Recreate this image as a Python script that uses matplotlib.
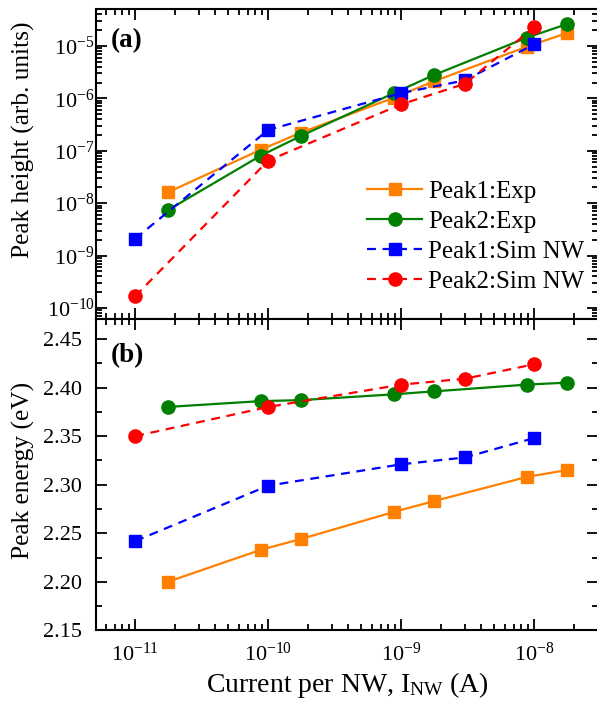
import matplotlib
matplotlib.use('Agg')
import matplotlib.pyplot as plt
import matplotlib.ticker as m_tick
import numpy as np

plt.rcParams['font.family'] = ['Liberation Serif', 'DejaVu Serif']
plt.rcParams['mathtext.fontset'] = 'custom'
plt.rcParams['mathtext.rm'] = 'Liberation Serif'
plt.rcParams['mathtext.it'] = 'Liberation Serif:italic'
plt.rcParams['mathtext.bf'] = 'Liberation Serif:bold'

# 实验数据的电流 (A)
current_exp = [1.75e-11, 8.8e-11, 1.75e-10, 8.8e-10, 1.75e-9, 8.8e-9, 1.75e-8]
# 模拟数据的电流 (A)
current_sim = [1e-11, 1e-10, 1e-9, 3e-9, 1e-8]

# (a) 峰高
height_p1_exp = [1.6e-8, 1.05e-7, 2.2e-7, 1.03e-6, 2.1e-6, 9.7e-6, 1.75e-5]
height_p2_exp = [7.3e-9, 8.1e-8, 1.9e-7, 1.26e-6, 2.77e-6, 1.44e-5, 2.6e-5]
height_p1_sim = [2.1e-9, 2.5e-7, 1.26e-6, 2.2e-6, 1.08e-5]
height_p2_sim = [1.68e-10, 6.5e-8, 7.7e-7, 1.89e-6, 2.3e-5]

# (b) 峰能量 (eV)
energy_p1_exp = [2.200, 2.233, 2.244, 2.272, 2.283, 2.308, 2.315]
energy_p2_exp = [2.380, 2.386, 2.387, 2.393, 2.396, 2.403, 2.405]
energy_p1_sim = [2.242, 2.299, 2.321, 2.328, 2.348]
energy_p2_sim = [2.350, 2.380, 2.403, 2.409, 2.424]

# 刻度
x_ticks = [1e-11, 1e-10, 1e-9, 1e-8]
y_ticks_a = [1e-10, 1e-9, 1e-8, 1e-7, 1e-6, 1e-5]

labels = ['Peak1:Exp', 'Peak2:Exp', 'Peak1:Sim NW', 'Peak2:Sim NW']
colors = ['#ff8000', '#007f00', '#0000ff', '#ff0000']

fig = plt.figure(figsize=(5.97, 7.02), dpi=100)
ax1 = fig.add_axes([0.1608, 0.5449, 0.8412, 0.4423])
ax2 = fig.add_axes([0.1608, 0.1019, 0.8412, 0.4430], sharex=ax1)

dash = (0, (4, 3))


def draw(ax, ys):
    ax.plot(current_exp, ys[0], color=colors[0], marker='s', markersize=8.5,
            lw=1.6, label=labels[0])
    ax.plot(current_exp, ys[1], color=colors[1], marker='o', markersize=9.5,
            lw=1.6, label=labels[1])
    ax.plot(current_sim, ys[2], color=colors[2], marker='s', markersize=8.5,
            lw=1.6, linestyle=dash, label=labels[2])
    ax.plot(current_sim, ys[3], color=colors[3], marker='o', markersize=9.5,
            lw=1.6, linestyle=dash, label=labels[3])


draw(ax1, [height_p1_exp, height_p2_exp, height_p1_sim, height_p2_sim])
draw(ax2, [energy_p1_exp, energy_p2_exp, energy_p1_sim, energy_p2_sim])

ax1.set_xscale('log')
ax1.set_yscale('log')
ax1.set_xlim(10 ** -11.295, 10 ** -7.52)
ax1.set_ylim(10 ** -10.22, 10 ** -4.295)
ax2.set_ylim(2.15, 2.47)

ax1.xaxis.set_major_locator(m_tick.FixedLocator(x_ticks))
ax1.xaxis.set_major_formatter(m_tick.LogFormatterMathtext())
ax1.xaxis.set_minor_locator(m_tick.LogLocator(base=10, subs=np.arange(2, 10), numticks=20))
ax1.xaxis.set_minor_formatter(m_tick.NullFormatter())
ax1.yaxis.set_major_locator(m_tick.FixedLocator(y_ticks_a))
ax1.yaxis.set_major_formatter(m_tick.LogFormatterMathtext())
ax1.yaxis.set_minor_locator(m_tick.LogLocator(base=10, subs=np.arange(2, 10), numticks=20))
ax1.yaxis.set_minor_formatter(m_tick.NullFormatter())
ax2.yaxis.set_major_locator(m_tick.MultipleLocator(0.05))
ax2.yaxis.set_minor_locator(m_tick.MultipleLocator(0.025))
ax2.yaxis.set_major_formatter(m_tick.FormatStrFormatter('%.2f'))

for ax in (ax1, ax2):
    ax.tick_params(which='both', direction='in', top=True, right=True, labelsize=16, width=1.3)
    ax.tick_params(which='major', length=8)
    ax.tick_params(which='minor', length=4)
    for sp in ax.spines.values():
        sp.set_linewidth(1.5)
ax1.tick_params(axis='x', which='both', labelbottom=False)
ax1.tick_params(axis='y', which='major', pad=1)
ax2.tick_params(axis='y', which='major', pad=10)
ax2.tick_params(axis='x', which='major', pad=9)

ax1.set_ylabel('Peak height (arb. units)', fontsize=18.3)
ax2.set_ylabel('Peak energy (eV)', fontsize=18.3)
ax2.set_xlabel(r'Current per NW, I$_{\rm NW}$ (A)', fontsize=20, labelpad=3)
ax1.yaxis.set_label_coords(-0.122, 0.58)
ax2.yaxis.set_label_coords(-0.122, 0.515)

ax1.text(0.03, 0.94, '(a)', transform=ax1.transAxes, fontsize=19.5, fontweight='bold', va='top')
ax2.text(0.03, 0.925, '(b)', transform=ax2.transAxes, fontsize=19.5, fontweight='bold', va='top')

ax1.legend(loc='upper left', bbox_to_anchor=(0.54, 0.448), frameon=False, fontsize=18,
           handlelength=2.2, handletextpad=0.25, labelspacing=0.3,
           borderpad=0, borderaxespad=0)

fig.savefig('out.png', dpi=100)
